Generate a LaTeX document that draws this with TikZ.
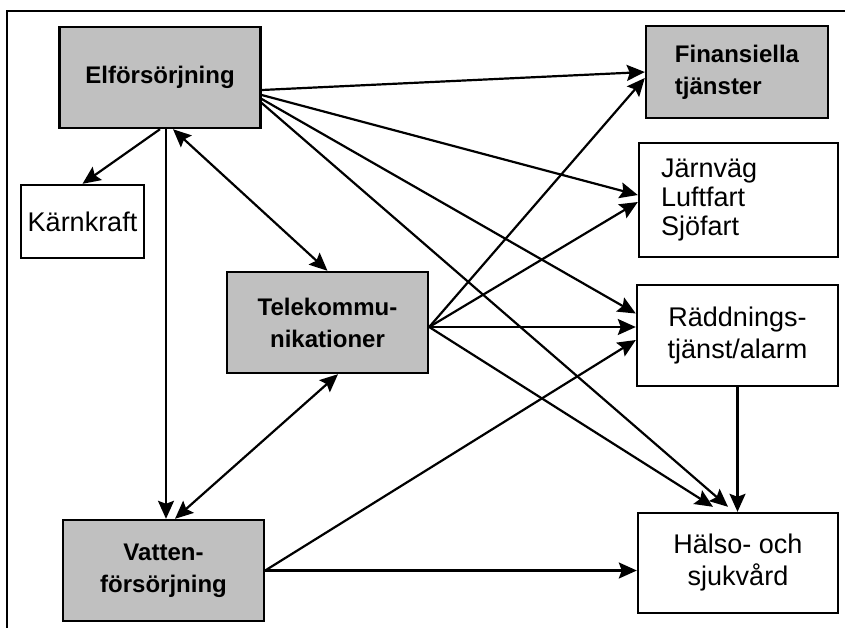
\documentclass[tikz,border=0pt]{standalone}
\usepackage{fontspec}
\setmainfont{Liberation Sans}
\usetikzlibrary{arrows.meta}
\definecolor{boxgray}{RGB}{192,192,192}

\begin{document}
\begin{tikzpicture}[x=0.5pt,y=-0.5pt,
        box/.style={draw, line width=1.2pt, minimum width=100.5pt, minimum height=50.5pt,
            inner sep=0pt, align=center, font=\fontsize{13.5}{16}\selectfont},
        core/.style={box, fill=boxgray, font=\fontsize{12}{16}\selectfont\bfseries},
        arr/.style={-{Stealth[length=9pt,width=8pt,inset=1.5pt]}, line width=1.1pt},
        darr/.style={{Stealth[length=9pt,width=8pt,inset=1.5pt]}-{Stealth[length=9pt,width=8pt,inset=1.5pt]}, line width=1.1pt}]
                    \useasboundingbox (0,0) rectangle (845,628);
                    \draw[line width=1.2pt] (845,11) -- (7,11) -- (7,628);

                    \node[core] (elf) at (160,77.5) {Elförsörjning};
                    \node[core, minimum width=91pt, minimum height=46pt, align=left] (fin) at (737,72) {Finansiella\\tjänster};
                    \node[box, minimum width=61.5pt, minimum height=36.5pt] (karn) at (82.5,221.5) {Kärnkraft};
                    \node[box, minimum width=99.5pt, minimum height=57pt, text width=77.5pt, align=left,
                        font=\fontsize{13.5}{14.5}\selectfont] (jarn) at (738.5,200) {Järnväg\\Luftfart\\Sjöfart};
                    \node[core] (tele) at (327.5,322.5) {Telekommu-\\nikationer};
                    \node[box] (rad) at (737.5,335.5) {Räddnings-\\tjänst/alarm};
                    \node[core] (vat) at (163.5,570.5) {Vatten-\\försörjning};
                    \node[box, minimum width=100pt, minimum height=50pt] (hal) at (738,563) {Hälso- och\\sjukvård};

                    \coordinate (tout) at ([yshift=-2.25pt]tele.east);

                    \draw[arr] (elf.south) -- (karn.north);
                    \draw[arr] ([xshift=3pt]elf.south) -- ([xshift=3pt]elf.south |- vat.north);
                    \draw[darr] ([xshift=6.5pt]elf.south) -- (tele.north);
                    \draw[darr] ([xshift=5.25pt]tele.south) -- ([xshift=5.75pt]vat.north);

                    \draw[arr] ([yshift=-6.25pt]elf.east) -- (fin.west);
                    \draw[arr] ([yshift=-8.75pt]elf.east) -- ([yshift=2.5pt]jarn.west);
                    \draw[arr] ([yshift=-10.75pt]elf.east) -- ([yshift=11pt]rad.west);
                    \draw[arr] ([yshift=-12.75pt]elf.east) -- ([xshift=-5pt,yshift=2.5pt]hal.north);

                    \draw[arr] (tout) -- ([yshift=-3pt]fin.west);
                    \draw[arr] (tout) -- ([yshift=-1pt]jarn.west);
                    \draw[arr] (tout) -- (tout -| rad.west);
                    \draw[arr] (tout) -- ([xshift=-12.5pt,yshift=2.5pt]hal.north);

                    \draw[arr] (vat.east) -- ([yshift=-2.25pt]rad.west);
                    \draw[arr] (vat.east) -- (vat.east -| hal.west);
                    \draw[arr] (rad.south) -- (rad.south |- hal.north);

                \end{tikzpicture}
\end{document}
